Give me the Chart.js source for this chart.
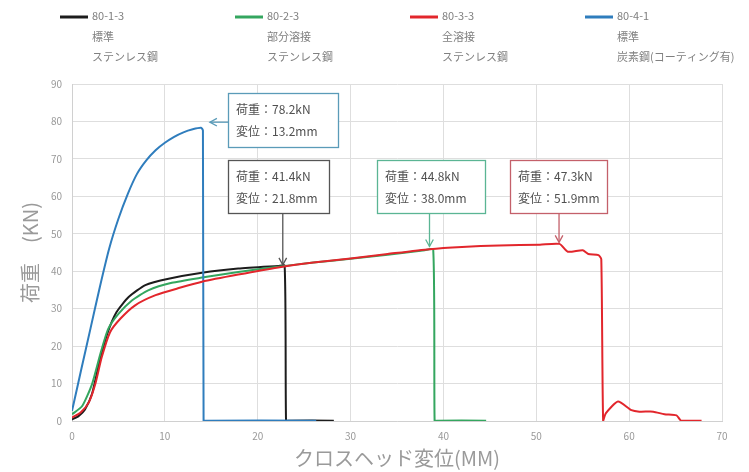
<!DOCTYPE html>
<html>
<head>
<meta charset="utf-8">
<script src="https://cdn.jsdelivr.net/npm/chart.js@4"></script>
<style>
  html, body { margin: 0; padding: 0; background: #fff; }
  #wrap { width: 749px; height: 472px; }
</style>
</head>
<body>
<div id="wrap"><canvas id="loadChart" width="749" height="472"></canvas></div>
<script>
// 試験体データ（クロスヘッド変位 mm / 荷重 kN）
const names = ["80-1-3", "80-2-3", "80-3-3", "80-4-1"];
const weldType = ["標準", "部分溶接", "全溶接", "標準"];
const material = ["ステンレス鋼", "ステンレス鋼", "ステンレス鋼", "炭素鋼(コーティング有)"];
const colors = ["#1c1c1c", "#34a65f", "#e2262c", "#2f7dbd"];

const x_80_1_3 = [0, 0.7, 1.4, 2.15, 2.9, 3.8, 4.8, 6.1, 7.9, 10.4, 14, 17.9, 22.2, 22.9, 23.05, 23.3, 28.2];
const y_80_1_3 = [0.4, 1.3, 3.1, 7.2, 15.2, 23.3, 29.1, 33.1, 36.3, 38, 39.6, 40.7, 41.4, 41.5, 0, 0.1, 0.1];

const x_80_2_3 = [0, 1.1, 2.15, 3.05, 3.9, 5, 6.45, 8.2, 10.75, 14, 17.9, 22.2, 26, 30, 34, 38, 38.9, 39.05, 39.3, 44.6];
const y_80_2_3 = [1.8, 4, 9.8, 17.9, 24.6, 28.6, 32.2, 34.9, 36.9, 38.3, 39.8, 41.2, 42.3, 43.3, 44.4, 45.6, 45.8, 0, 0.1, 0.1];

const x_80_3_3 = [0, 0.9, 1.8, 2.5, 3.2, 4.1, 5.2, 6.8, 9, 11.5, 14, 17.9, 22.2, 26, 30, 34, 38.5, 42, 46, 50.4, 52.5, 53.4, 55, 55.6, 56.7, 57, 57.2, 57.5, 58.8, 60.25, 61.1, 62.6, 63.8, 65.1, 65.6, 67.8];
const y_80_3_3 = [0.9, 2.2, 4.9, 9.8, 17, 23.7, 27.3, 30.9, 33.6, 35.5, 37.2, 39.1, 41, 42.3, 43.4, 44.6, 45.9, 46.5, 46.9, 47.1, 47.3, 45.2, 45.6, 44.6, 44.3, 43.2, 0, 2.1, 5.2, 2.9, 2.5, 2.5, 1.8, 1.5, 0.1, 0.1];

const x_80_4_1 = [0, 0.3, 1, 2, 3, 4, 5, 6, 7, 8, 9, 10, 11, 12, 13, 13.9, 14.1, 14.17, 14.4, 26.3];
const y_80_4_1 = [2.7, 6, 13.8, 24.8, 35.8, 46, 54, 60.6, 66, 69.6, 72.3, 74.3, 75.9, 77.1, 77.9, 78.3, 77.6, 0, 0.1, 0.1];

// 吹き出し（最大荷重）
const calloutLoad = ["78.2", "41.4", "44.8", "47.3"];
const calloutDisp = ["13.2", "21.8", "38.0", "51.9"];
const calloutTipX = [14.85, 22.7, 38.5, 52.45];
const calloutTipY = [79.8, 41.7, 46.6, 47.7];

const xTicks = [0, 10, 20, 30, 40, 50, 60, 70];
const yTicks = [0, 10, 20, 30, 40, 50, 60, 70, 80, 90];

const allX = [x_80_1_3, x_80_2_3, x_80_3_3, x_80_4_1];
const allY = [y_80_1_3, y_80_2_3, y_80_3_3, y_80_4_1];
const drawOrder = [3, 2, 0, 1];

const JP = "'Noto Sans CJK JP', 'Noto Sans', sans-serif";

// 吹き出しの枠（ピクセル）
const boxes = [
    { l: 228, t: 93, r: 338, b: 147, border: "#5a9bb8", side: "left" },
    { l: 228, t: 160, r: 329, b: 213, border: "#555555", side: "bottom" },
    { l: 377, t: 160, r: 485, b: 213, border: "#5bb594", side: "bottom" },
    { l: 510, t: 160, r: 607, b: 213, border: "#c4606a", side: "bottom" }
];

const overlay = {
    id: "overlay",
    afterDraw(chart) {
        const ctx = chart.ctx;
        const xs = chart.scales.x, ys = chart.scales.y;
        ctx.save();

        // 凡例
        const legendX = [60, 235, 410, 585];
        names.forEach((n, i) => {
            const x0 = legendX[i];
            ctx.strokeStyle = colors[i];
            ctx.lineWidth = 3;
            ctx.beginPath();
            ctx.moveTo(x0, 17);
            ctx.lineTo(x0 + 28, 17);
            ctx.stroke();
            ctx.fillStyle = "#808080";
            ctx.font = "11px " + JP;
            ctx.textBaseline = "middle";
            ctx.textAlign = "left";
            ctx.fillText(n, x0 + 32, 16);
            ctx.fillText(weldType[i], x0 + 32, 37);
            ctx.fillText(material[i], x0 + 32, 57);
        });

        // 吹き出し
        boxes.forEach((bx, i) => {
            ctx.fillStyle = "#fff";
            ctx.fillRect(bx.l, bx.t, bx.r - bx.l, bx.b - bx.t);
            ctx.strokeStyle = bx.border;
            ctx.lineWidth = 1.3;
            ctx.strokeRect(bx.l + 0.5, bx.t + 0.5, bx.r - bx.l, bx.b - bx.t);
            ctx.fillStyle = "#505050";
            ctx.font = "12px " + JP;
            ctx.textBaseline = "middle";
            ctx.textAlign = "left";
            ctx.fillText("荷重：" + calloutLoad[i] + "kN", bx.l + 8, bx.t + 16);
            ctx.fillText("変位：" + calloutDisp[i] + "mm", bx.l + 8, bx.t + 38);

            const tx = xs.getPixelForValue(calloutTipX[i]);
            const ty = ys.getPixelForValue(calloutTipY[i]);
            let sx, sy;
            if (bx.side === "left") { sx = bx.l; sy = ty; }
            else { sx = tx; sy = bx.b; }
            ctx.strokeStyle = bx.border;
            ctx.lineWidth = 1.3;
            ctx.beginPath();
            ctx.moveTo(sx, sy);
            ctx.lineTo(tx, ty);
            ctx.stroke();
            const ang = Math.atan2(ty - sy, tx - sx);
            const h = 8;
            ctx.beginPath();
            ctx.moveTo(tx - h * Math.cos(ang - 0.5), ty - h * Math.sin(ang - 0.5));
            ctx.lineTo(tx, ty);
            ctx.lineTo(tx - h * Math.cos(ang + 0.5), ty - h * Math.sin(ang + 0.5));
            ctx.stroke();
        });
        ctx.restore();
    }
};

const datasets = names.map((n, i) => ({
    label: n,
    data: allX[i].map((x, k) => ({ x: x, y: allY[i][k] })),
    borderColor: colors[i],
    backgroundColor: colors[i],
    borderWidth: 2,
    pointRadius: 0,
    showLine: true,
    tension: 0.2,
    order: drawOrder[i]
}));

new Chart(document.getElementById("loadChart").getContext("2d"), {
    type: "scatter",
    data: { datasets: datasets },
    options: {
        responsive: false,
        animation: false,
        layout: { padding: { top: 84, right: 27, left: 0, bottom: 0 } },
        plugins: { legend: { display: false }, tooltip: { enabled: false } },
        scales: {
            x: {
                type: "linear",
                min: 0, max: 70,
                afterBuildTicks: s => { s.ticks = xTicks.map(v => ({ value: v })); },
                afterFit: s => { s.height = 51; },
                grid: { color: "#dedede", drawTicks: false },
                border: { color: "#d0d0d0" },
                ticks: { color: "#999", font: { size: 10, family: JP }, padding: 9 },
                title: {
                    display: true,
                    text: "クロスヘッド変位(MM)",
                    color: "#9a9a9a",
                    font: { size: 20, family: JP },
                    padding: { top: 0, bottom: 2 }
                }
            },
            y: {
                type: "linear",
                min: 0, max: 90,
                afterBuildTicks: s => { s.ticks = yTicks.map(v => ({ value: v })); },
                afterFit: s => { s.width = 72; },
                grid: { color: "#dedede", drawTicks: false },
                border: { color: "#d0d0d0" },
                ticks: { color: "#999", font: { size: 10, family: JP }, padding: 10 },
                title: {
                    display: true,
                    text: "荷重　(KN)",
                    color: "#9a9a9a",
                    font: { size: 20, family: JP },
                    padding: { top: 18, bottom: 0 }
                }
            }
        }
    },
    plugins: [overlay]
});
</script>
</body>
</html>
